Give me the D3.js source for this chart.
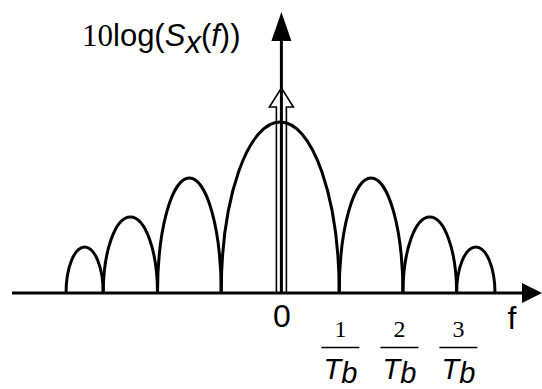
<!DOCTYPE html>
<html>
<head>
<meta charset="utf-8">
<script src="https://cdn.jsdelivr.net/npm/d3@7"></script>
<style>
  html, body { margin: 0; padding: 0; background: #fff; }
  svg { display: block; }
</style>
</head>
<body>
<svg id="chart" width="542" height="389"></svg>
<script>
// Frequency axis in units of 1/Tb; lobe i spans lobeEdges[i]..lobeEdges[i+1]
const lobeEdges = [-3.65, -3.02, -2.10, -1.02, 0.98, 2.06, 2.97, 3.62];
const lobeHeights = [4.6, 7.6, 11.5, 17.1, 11.5, 7.6, 4.6];
// Discrete spectral line at f = 0
const impulseF = 0;
const impulseHeight = 20.5;
// Tick labels on the f axis
const tickValues = [1, 2, 3];
const tickNumerators = ["1", "2", "3"];

const svg = d3.select("#chart");
const x = d3.scaleLinear().domain([-4.6, 4.4]).range([10, 541]);
const y = d3.scaleLinear().domain([0, 28]).range([293, 13]);
const y0 = y(0);

const ink = "#000";
const sans = "'Liberation Sans', Arial, Helvetica, sans-serif";
const serif = "'Liberation Serif', 'Times New Roman', serif";

// Lobes: half-elliptical arches between consecutive nulls
const lobes = lobeHeights.map((h, i) => ({ a: lobeEdges[i], b: lobeEdges[i + 1], h }));
svg.append("g").selectAll("path").data(lobes).join("path")
  .attr("d", d => {
    const xa = x(d.a), xb = x(d.b);
    const rx = (xb - xa) / 2, ry = y0 - y(d.h);
    return `M${xa},${y0} A${rx},${ry} 0 0 1 ${xb},${y0}`;
  })
  .attr("fill", "none").attr("stroke", ink).attr("stroke-width", 3);

// Hollow arrow for the impulse at f = 0
const xi = x(impulseF), yTip = y(impulseHeight);
const headLen = 19, headHalf = 12, shaftHalf = 5;
svg.append("polyline")
  .attr("points", [
    [xi - shaftHalf, y0], [xi - shaftHalf, yTip + headLen], [xi - headHalf, yTip + headLen],
    [xi, yTip], [xi + headHalf, yTip + headLen], [xi + shaftHalf, yTip + headLen], [xi + shaftHalf, y0]
  ].map(p => p.join(",")).join(" "))
  .attr("fill", "none").attr("stroke", ink).attr("stroke-width", 1.6)
  .attr("stroke-linejoin", "miter");

// Vertical axis with solid arrowhead
const xAxis0 = x(0);
const yTop = y(28);
svg.append("line")
  .attr("x1", xAxis0).attr("x2", xAxis0)
  .attr("y1", y0).attr("y2", yTop + 20)
  .attr("stroke", ink).attr("stroke-width", 3);
svg.append("path")
  .attr("d", `M${xAxis0},${yTop - 1} L${xAxis0 - 10},${yTop + 28} L${xAxis0 + 10},${yTop + 28} Z`)
  .attr("fill", ink);

// Horizontal axis with solid arrowhead
const xEnd = x.range()[1] + 1;
svg.append("line")
  .attr("x1", 12).attr("x2", xEnd - 15)
  .attr("y1", y0).attr("y2", y0)
  .attr("stroke", ink).attr("stroke-width", 3);
svg.append("path")
  .attr("d", `M${xEnd},${y0} L${xEnd - 20},${y0 - 10} L${xEnd - 20},${y0 + 10} Z`)
  .attr("fill", ink);

// Axis titles
const yTitle = svg.append("text")
  .attr("x", 82).attr("y", 46)
  .attr("font-family", sans).attr("font-size", 31).attr("fill", ink);
yTitle.append("tspan").attr("font-family", serif).text("10");
yTitle.append("tspan").text("log(");
yTitle.append("tspan").attr("font-style", "italic").text("S");
yTitle.append("tspan").attr("font-style", "italic").attr("dy", 7).text("x");
yTitle.append("tspan").attr("dy", -7).text("(");
yTitle.append("tspan").attr("font-style", "italic").text("f");
yTitle.append("tspan").text("))");

svg.append("text")
  .attr("x", 512).attr("y", 329)
  .attr("text-anchor", "middle")
  .attr("font-family", sans).attr("font-size", 32).attr("fill", ink)
  .text("f");

// Origin label
svg.append("text")
  .attr("x", x(0) + 0.5).attr("y", 326.5)
  .attr("text-anchor", "middle")
  .attr("font-family", sans).attr("font-size", 32).attr("fill", ink)
  .text("0");

// k / Tb tick labels drawn as stacked fractions
const ticks = svg.append("g").selectAll("g").data(tickValues).join("g")
  .attr("transform", d => `translate(${x(d)},0)`);
ticks.append("text")
  .attr("x", 0).attr("y", 336.5)
  .attr("text-anchor", "middle")
  .attr("font-family", serif).attr("font-size", 24).attr("fill", ink)
  .text((d, i) => tickNumerators[i]);
ticks.append("line")
  .attr("x1", -19).attr("x2", 19)
  .attr("y1", 347.5).attr("y2", 347.5)
  .attr("stroke", ink).attr("stroke-width", 1.5);
const den = ticks.append("text")
  .attr("x", 0).attr("y", 379)
  .attr("text-anchor", "middle")
  .attr("font-family", sans).attr("font-size", 29).attr("font-style", "italic").attr("fill", ink);
den.append("tspan").text("T");
den.append("tspan").attr("dy", 4).text("b");
</script>
</body>
</html>
